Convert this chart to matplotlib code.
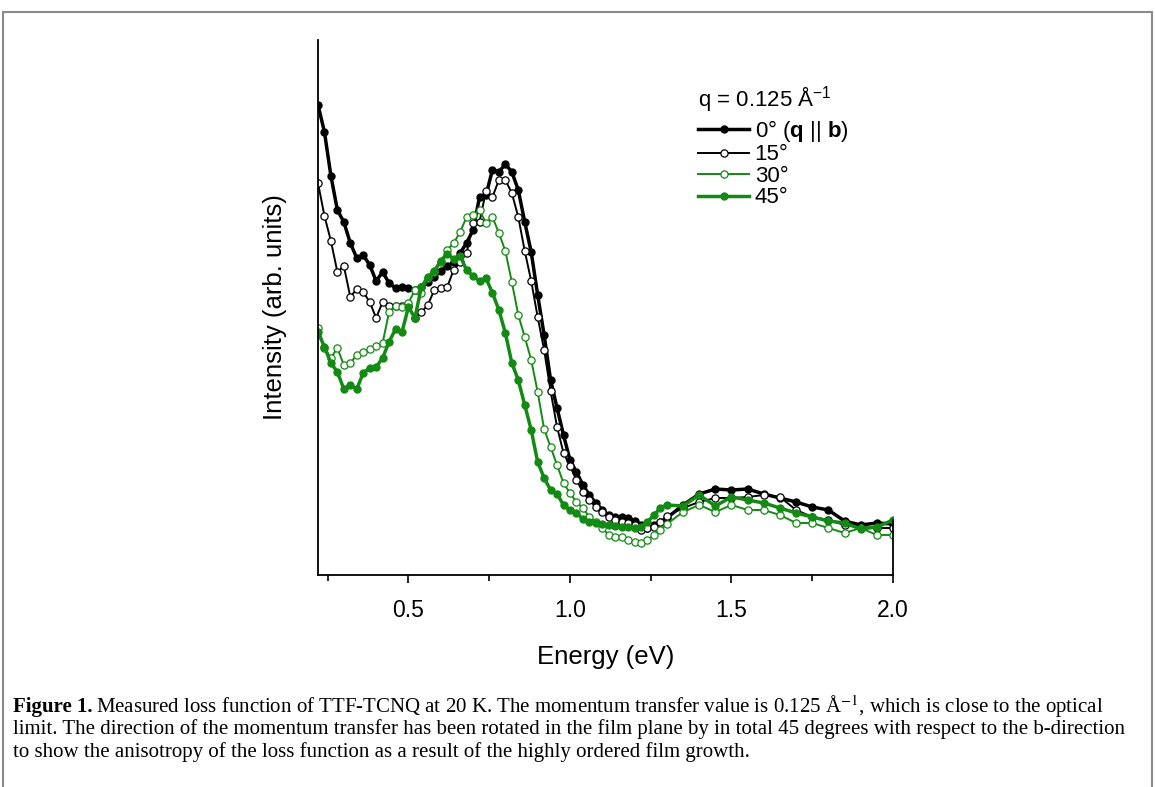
import matplotlib
matplotlib.use("Agg")
import matplotlib.pyplot as plt
from matplotlib.patches import Rectangle
from matplotlib.ticker import MultipleLocator, FormatStrFormatter

plt.rcParams["font.family"] = ["Liberation Sans", "DejaVu Sans"]
plt.rcParams["mathtext.fontset"] = "custom"
plt.rcParams["mathtext.rm"] = "Liberation Sans"
plt.rcParams["mathtext.bf"] = "Liberation Sans:bold"

# energy grid (eV): 0.02 steps up to 1.30, then 0.05 steps
energy = [0.22, 0.24, 0.26, 0.28, 0.30, 0.32, 0.34, 0.36, 0.38, 0.40,
          0.42, 0.44, 0.46, 0.48, 0.50, 0.52, 0.54, 0.56, 0.58, 0.60,
          0.62, 0.64, 0.66, 0.68, 0.70, 0.72, 0.74, 0.76, 0.78, 0.80,
          0.82, 0.84, 0.86, 0.88, 0.90, 0.92, 0.94, 0.96, 0.98, 1.00,
          1.02, 1.04, 1.06, 1.08, 1.10, 1.12, 1.14, 1.16, 1.18, 1.20,
          1.22, 1.24, 1.26, 1.28, 1.30, 1.35, 1.40, 1.45, 1.50, 1.55,
          1.60, 1.65, 1.70, 1.75, 1.80, 1.85, 1.90, 1.95, 2.00]

loss_0 = [4.70, 4.43, 3.99, 3.65, 3.53, 3.32, 3.17, 3.20, 3.10, 2.94,
          3.03, 2.92, 2.87, 2.88, 2.87, 2.85, 2.88, 2.93, 2.98, 3.04,
          3.09, 3.13, 3.22, 3.32, 3.45, 3.78, 3.80, 4.05, 4.03, 4.11,
          4.03, 3.85, 3.53, 3.23, 2.80, 2.40, 1.95, 1.67, 1.40, 1.15,
          1.03, 0.90, 0.80, 0.72, 0.65, 0.60, 0.58, 0.58, 0.57, 0.54,
          0.50, 0.47, 0.50, 0.53, 0.57, 0.70, 0.81, 0.86, 0.85, 0.86,
          0.81, 0.77, 0.73, 0.68, 0.65, 0.54, 0.50, 0.52, 0.51]

loss_15 = [3.92, 3.59, 3.34, 3.03, 3.09, 2.78, 2.86, 2.83, 2.73, 2.57,
           2.73, 2.69, 2.69, 2.69, 2.69, 2.57, 2.63, 2.70, 2.85, 2.87,
           2.88, 3.05, 3.13, 3.22, 3.52, 3.53, 3.84, 3.78, 3.95, 3.95,
           3.82, 3.58, 3.24, 2.94, 2.58, 2.25, 1.84, 1.48, 1.22, 1.09,
           0.95, 0.83, 0.75, 0.68, 0.63, 0.58, 0.55, 0.53, 0.52, 0.50,
           0.45, 0.47, 0.48, 0.53, 0.59, 0.67, 0.73, 0.77, 0.77, 0.78,
           0.80, 0.78, 0.65, 0.58, 0.55, 0.50, 0.48, 0.47, 0.47]

loss_30 = [2.47, 2.27, 2.17, 2.27, 2.10, 2.12, 2.20, 2.23, 2.26, 2.29,
           2.32, 2.63, 2.69, 2.68, 2.72, 2.85, 2.82, 2.97, 3.03, 3.13,
           3.25, 3.32, 3.43, 3.58, 3.60, 3.65, 3.52, 3.58, 3.42, 3.24,
           2.93, 2.60, 2.38, 2.15, 1.83, 1.46, 1.28, 1.10, 0.92, 0.82,
           0.73, 0.67, 0.58, 0.53, 0.47, 0.40, 0.38, 0.38, 0.35, 0.33,
           0.32, 0.35, 0.40, 0.45, 0.51, 0.63, 0.70, 0.63, 0.70, 0.65,
           0.65, 0.60, 0.52, 0.52, 0.47, 0.42, 0.47, 0.40, 0.40]

loss_45 = [2.43, 2.28, 2.12, 2.03, 1.86, 1.90, 1.86, 2.02, 2.07, 2.08,
           2.17, 2.33, 2.46, 2.43, 2.68, 2.57, 2.88, 2.98, 3.04, 3.14,
           3.21, 3.16, 3.19, 3.05, 2.99, 2.94, 2.97, 2.82, 2.65, 2.42,
           2.12, 1.95, 1.70, 1.45, 1.13, 0.97, 0.85, 0.81, 0.70, 0.65,
           0.62, 0.56, 0.53, 0.52, 0.51, 0.50, 0.49, 0.48, 0.48, 0.47,
           0.48, 0.53, 0.60, 0.67, 0.70, 0.69, 0.80, 0.69, 0.78, 0.75,
           0.72, 0.67, 0.62, 0.58, 0.54, 0.52, 0.46, 0.48, 0.55]

labels = ["0° ($\\mathbf{q}$ || $\\mathbf{b}$)", "15°", "30°", "45°"]
green = "#138a13"

fig = plt.figure(figsize=(11.55, 7.87), dpi=100)
ax = fig.add_axes([318/1155, 1-575/787, (893-318)/1155, (575-40)/787])

ax.plot(energy, loss_0, color="black", lw=2.5, marker="o", ms=5,
        mfc="black", mec="black", label=labels[0])
ax.plot(energy, loss_15, color="black", lw=1.4, marker="o", ms=5.2,
        mfc="white", mec="black", mew=0.9, label=labels[1])
ax.plot(energy, loss_30, color=green, lw=1.4, marker="o", ms=5.2,
        mfc="white", mec=green, mew=0.9, label=labels[2])
ax.plot(energy, loss_45, color=green, lw=2.5, marker="o", ms=5,
        mfc=green, mec=green, label=labels[3])

ax.set_xlim(0.22, 2.0)
ax.set_ylim(0, 5.35)
ax.xaxis.set_major_locator(MultipleLocator(0.5))
ax.xaxis.set_minor_locator(MultipleLocator(0.25))
ax.xaxis.set_major_formatter(FormatStrFormatter("%.1f"))
ax.set_yticks([])
ax.tick_params(axis="x", which="major", direction="out", length=6, width=1.2,
               labelsize=16.5, pad=11)
ax.tick_params(axis="x", which="minor", direction="out", length=4, width=1.2)
ax.spines["top"].set_visible(False)
ax.spines["right"].set_bounds(0, 0.55)
for s in ["left", "bottom", "right"]:
    ax.spines[s].set_linewidth(1.3)

ax.set_xlabel("Energy (eV)", fontsize=18.5, labelpad=17)
ax.set_ylabel("Intensity (arb. units)", fontsize=18.5, labelpad=22)

leg = ax.legend(title="q = 0.125 Å$^{-1}$", loc="upper left",
                bbox_to_anchor=((698-318)/575, (575-84)/535),
                frameon=False, fontsize=16, title_fontsize=16,
                handlelength=2.3, handletextpad=0.25, labelspacing=0.02,
                borderpad=0, borderaxespad=0, alignment="left")
leg._legend_box.sep = 3

# grey frame around the whole figure panel
fig.patches.append(Rectangle((3/1155, -0.05), 1149/1155, 1.05-12/787,
                             transform=fig.transFigure, fill=False,
                             edgecolor="#8a8a8a", lw=1.5))

cap = dict(family="Liberation Serif", fontsize=15, va="center",
           math_fontfamily="stix")
t0 = fig.text(13/1155, 1-707/787, "Figure 1.", fontweight="bold", **cap)
r = fig.canvas.get_renderer()
bb = t0.get_window_extent(r)
fig.text((bb.x1+4)/1155, 1-707/787,
         "Measured loss function of TTF-TCNQ at 20 K. The momentum transfer value "
         "is 0.125 Å$^{-1}$, which is close to the optical", **cap)
fig.text(13/1155, 1-729/787,
         "limit. The direction of the momentum transfer has been rotated in the "
         "film plane by in total 45 degrees with respect to the b-direction", **cap)
fig.text(13/1155, 1-752/787,
         "to show the anisotropy of the loss function as a result of the highly "
         "ordered film growth.", **cap)

fig.savefig("out.png", dpi=100)
